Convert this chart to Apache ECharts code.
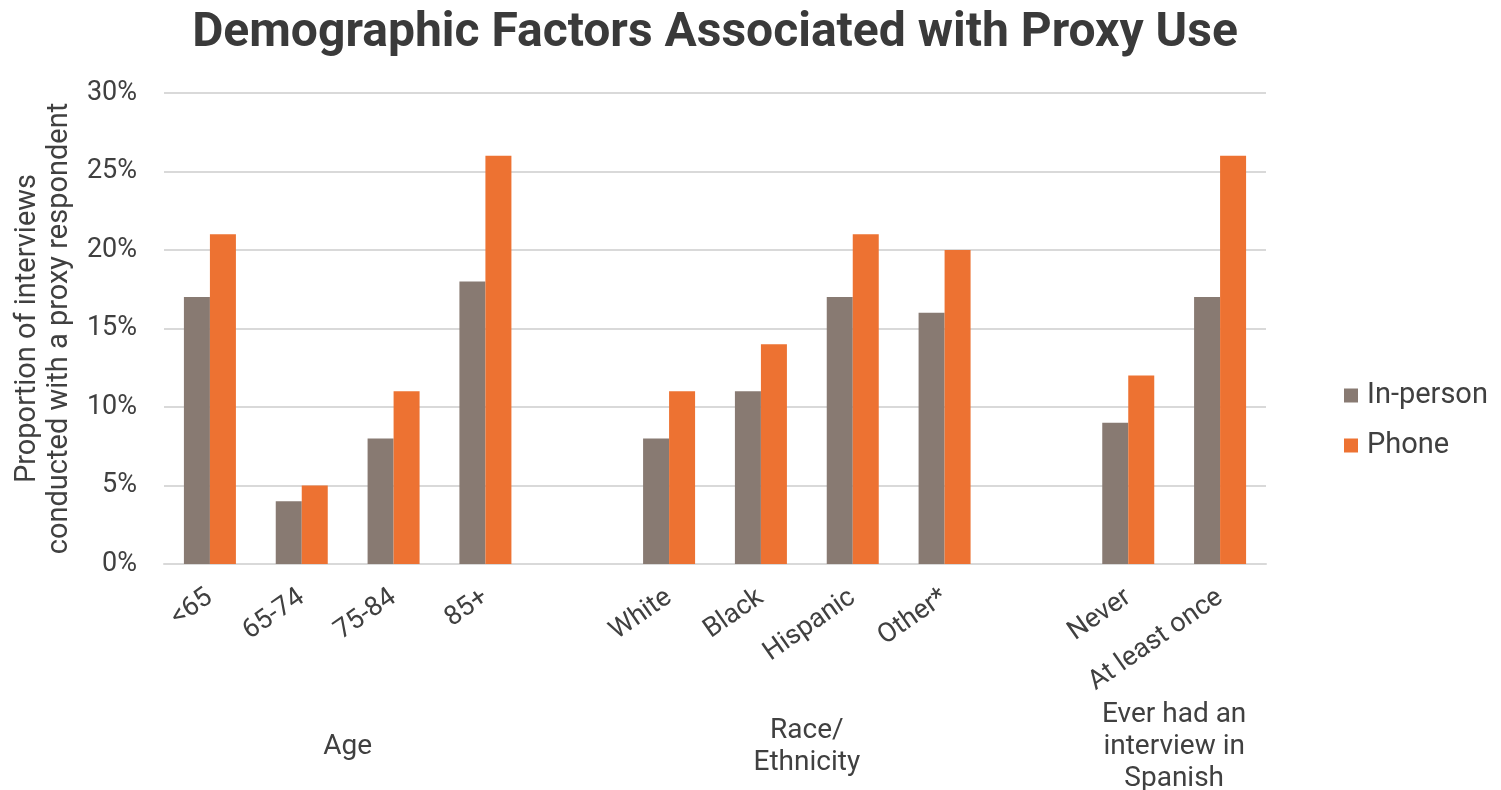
<!DOCTYPE html>
<html>
<head>
<meta charset="utf-8">
<title>Demographic Factors Associated with Proxy Use</title>
<script src="https://cdn.jsdelivr.net/npm/echarts@6/dist/echarts.min.js"></script>
<style>
  html, body { margin: 0; padding: 0; background: #ffffff; }
  #chart { width: 1501px; height: 790px; }
</style>
</head>
<body>
<div id="chart"></div>
<script>
// Category slots along the x axis; empty strings are spacer slots between groups
const categories = ['<65', '65-74', '75-84', '85+', '', 'White', 'Black', 'Hispanic', 'Other*', '', 'Never', 'At least once'];

// Share of interviews conducted with a proxy respondent (%)
const inPerson = [17, 4, 8, 18, null, 8, 11, 17, 16, null, 9, 17];
const phone    = [21, 5, 11, 26, null, 11, 14, 21, 20, null, 12, 26];

// Group captions and the slot position each one is centred on
const groupNames   = ['Age', 'Race/\nEthnicity', 'Ever had an\ninterview in\nSpanish'];
const groupCenters = [1.5, 6.5, 10.5];

// Y axis ticks (%)
const yTicks = [0, 5, 10, 15, 20, 25, 30];

const textColor = '#404040';
const gridColor = '#d9d9d9';
const font = 'Roboto, "Noto Sans", sans-serif';

const chart = echarts.init(document.getElementById('chart'), null, { renderer: 'canvas' });

chart.setOption({
  backgroundColor: '#ffffff',
  animation: false,
  textStyle: { fontFamily: font, color: textColor },
  title: {
    text: 'Demographic Factors Associated with Proxy Use',
    left: 710,
    textAlign: 'center',
    top: 5,
    textStyle: { fontFamily: font, fontSize: 48, fontWeight: 'bold', color: '#3a3a3a' }
  },
  legend: {
    orient: 'vertical',
    left: 1339,
    top: 376,
    itemWidth: 14,
    itemHeight: 14,
    itemGap: 21,
    icon: 'rect',
    textStyle: { fontFamily: font, fontSize: 29, color: textColor, padding: [0, 0, 0, 4] },
    data: ['In-person', 'Phone']
  },
  grid: { left: 164, right: 235, top: 93, bottom: 226, containLabel: false, outerBoundsMode: 'none' },
  xAxis: [
    {
      type: 'category',
      data: categories,
      axisTick: { show: false },
      axisLine: { lineStyle: { color: gridColor, width: 2 } },
      axisLabel: {
        interval: 0,
        rotate: 35,
        margin: 31,
        fontFamily: font,
        fontSize: 27,
        color: textColor
      }
    },
    {
      // Value-scaled twin of the category axis, used only to place the group captions
      type: 'value',
      position: 'bottom',
      min: -0.5,
      max: 11.5,
      interval: 0.5,
      axisLine: { show: false },
      axisTick: { show: false },
      splitLine: { show: false },
      axisLabel: {
        margin: 183,
        showMinLabel: true,
        showMaxLabel: true,
        fontFamily: font,
        fontSize: 28,
        lineHeight: 32,
        color: textColor,
        align: 'center',
        verticalAlign: 'middle',
        formatter: function (v) {
          const i = groupCenters.indexOf(v);
          return i >= 0 ? groupNames[i] : '';
        }
      }
    }
  ],
  yAxis: {
    type: 'value',
    min: yTicks[0],
    max: yTicks[yTicks.length - 1],
    interval: yTicks[1] - yTicks[0],
    name: 'Proportion of interviews\nconducted with a proxy respondent',
    nameLocation: 'middle',
    nameGap: 88,
    nameTextStyle: { fontFamily: font, fontSize: 29, color: textColor, lineHeight: 32 },
    axisLine: { show: false },
    axisTick: { show: false },
    axisLabel: {
      margin: 27,
      fontFamily: font,
      fontSize: 27,
      color: textColor,
      formatter: '{value}%'
    },
    splitLine: { lineStyle: { color: gridColor, width: 2 } }
  },
  series: [
    {
      name: 'In-person',
      type: 'bar',
      data: inPerson,
      barWidth: 26,
      barGap: '0%',
      itemStyle: { color: '#887a72' }
    },
    {
      name: 'Phone',
      type: 'bar',
      data: phone,
      barWidth: 26,
      barGap: '0%',
      itemStyle: { color: '#ed7232' }
    }
  ]
});
</script>
</body>
</html>
